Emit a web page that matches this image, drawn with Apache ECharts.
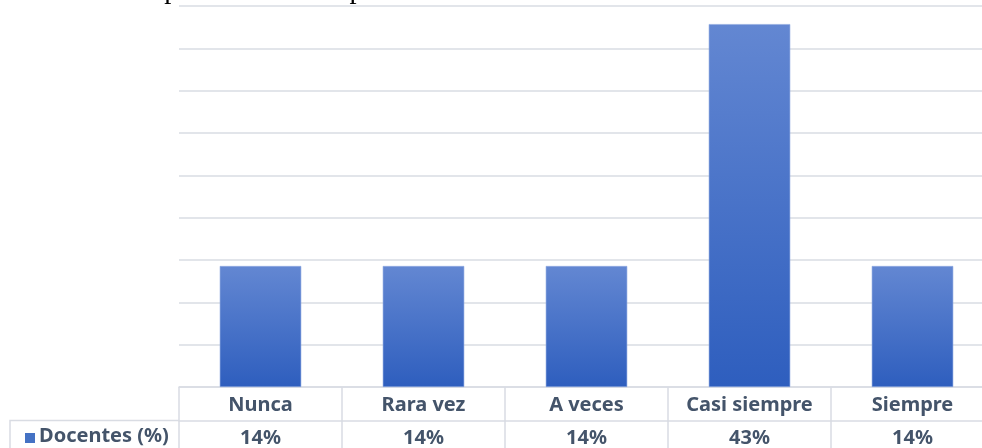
<!DOCTYPE html>
<html>
<head>
<meta charset="utf-8">
<script src="https://cdn.jsdelivr.net/npm/echarts@6/dist/echarts.min.js"></script>
<style>
  html, body { margin: 0; padding: 0; background: #fff; }
  #chart { width: 982px; height: 448px; }
</style>
</head>
<body>
<div id="chart"></div>
<script>
// datos
const titulo = 'Gráfico 4. Aplicación de adaptaciones curriculares';
const categorias = ['Nunca', 'Rara vez', 'A veces', 'Casi siempre', 'Siempre'];
const serieNombre = 'Docentes (%)';
const docentes = [14.29, 14.29, 14.29, 42.86, 14.29];

const textoColor = '#44546A';
const lineaColor = '#D9DCE3';
const fuente = '"Noto Sans", sans-serif';

const chart = echarts.init(document.getElementById('chart'));

// fila de valores de la tabla (redondeados como en Excel)
const etiquetasValor = docentes.map(v => Math.round(v) + '%');

const option = {
  animation: false,
  grid: { left: 179, top: 6, width: 815, bottom: 61, outerBoundsMode: 'none', containLabel: false },
  xAxis: [
    {
      type: 'category',
      data: categorias,
      axisLine: { show: true, lineStyle: { color: lineaColor, width: 1.5 } },
      axisTick: { show: true, interval: 0, length: 34, lineStyle: { color: lineaColor, width: 1.5 } },
      axisLabel: { interval: 0, margin: 8, color: textoColor, fontFamily: fuente, fontWeight: 'bold', fontSize: 20 }
    },
    {
      type: 'category',
      data: etiquetasValor,
      position: 'bottom',
      offset: 34,
      axisLine: { show: true, lineStyle: { color: lineaColor, width: 1.5 } },
      axisTick: { show: true, interval: 0, length: 30, lineStyle: { color: lineaColor, width: 1.5 } },
      axisLabel: { interval: 0, margin: 7, color: textoColor, fontFamily: fuente, fontWeight: 'bold', fontSize: 20 }
    }
  ],
  yAxis: {
    type: 'value',
    min: 0,
    max: 45,
    interval: 5,
    axisLabel: { show: false },
    axisLine: { show: false },
    axisTick: { show: false },
    splitLine: { lineStyle: { color: lineaColor, width: 1.5 } }
  },
  series: [
    {
      name: serieNombre,
      type: 'bar',
      xAxisIndex: 0,
      data: docentes,
      barWidth: '50%',
      itemStyle: {
        color: new echarts.graphic.LinearGradient(0, 0, 0, 1, [
          { offset: 0, color: '#6387D2' },
          { offset: 1, color: '#2E5EBE' }
        ]),
        borderColor: '#8FAAE0',
        borderWidth: 0.6
      }
    }
  ],
  graphic: [
    // título recortado arriba
    {
      type: 'text',
      x: 21,
      y: -24,
      style: { text: titulo, font: '28.5px "Liberation Serif", serif', fill: '#000', verticalAlign: 'top' }
    },
    // celda izquierda de la tabla (leyenda)
    {
      type: 'polyline',
      shape: { points: [[10, 449], [10, 420.5], [179, 420.5]] },
      style: { stroke: lineaColor, lineWidth: 1.5, fill: null }
    },
    {
      type: 'rect',
      shape: { x: 25, y: 433, width: 10, height: 10 },
      style: { fill: '#4472C4' }
    },
    {
      type: 'text',
      x: 39,
      y: 426,
      style: { text: serieNombre, font: 'bold 20px "Noto Sans", sans-serif', fill: textoColor, verticalAlign: 'top' }
    }
  ]
};

chart.setOption(option);
</script>
</body>
</html>
